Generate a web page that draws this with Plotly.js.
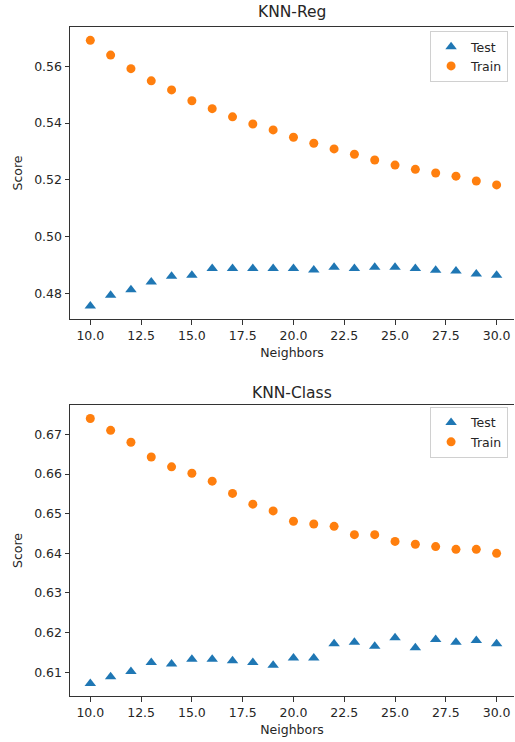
<!DOCTYPE html>
<html>
<head>
<meta charset="utf-8">
<script src="https://cdn.plot.ly/plotly-3.0.1.min.js"></script>
<style>html,body{margin:0;padding:0;overflow:hidden;background:#fff;}</style>
</head>
<body>
<div id="chart" style="width:515px;height:742px;"></div>
<script>
const neighbors = [10,11,12,13,14,15,16,17,18,19,20,21,22,23,24,25,26,27,28,29,30];

const regTest = [0.4755,0.4793,0.4812,0.4840,0.4860,0.4863,0.4887,0.4887,0.4887,0.4887,0.4887,0.4882,0.4892,0.4887,0.4892,0.4892,0.4887,0.4881,0.4878,0.4868,0.4863];
const regTrain = [0.5692,0.5640,0.5592,0.5549,0.5517,0.5479,0.5451,0.5422,0.5397,0.5376,0.5350,0.5329,0.5309,0.5290,0.5270,0.5252,0.5237,0.5224,0.5213,0.5196,0.5182];

const clsTest = [0.6072,0.6089,0.6102,0.6125,0.6121,0.6133,0.6133,0.6129,0.6125,0.6118,0.6136,0.6136,0.6172,0.6176,0.6166,0.6187,0.6162,0.6183,0.6176,0.6180,0.6172];
const clsTrain = [0.6740,0.6710,0.6680,0.6643,0.6618,0.6602,0.6582,0.6551,0.6524,0.6507,0.6481,0.6474,0.6468,0.6447,0.6447,0.6430,0.6423,0.6417,0.6410,0.6410,0.6400];

const titles = ["KNN-Reg", "KNN-Class"];
const seriesNames = ["Test", "Train"];
const xTickVals = [10,12.5,15,17.5,20,22.5,25,27.5,30];

const blue = "#1f77b4", orange = "#ff7f0e";
const font = {family: "DejaVu Sans", color: "#262626"};
const tickFont = {family: "DejaVu Sans", size: 12.5, color: "#262626"};

function mk(x, y, name, sym, color, xa, ya, leg) {
  return {
    x: x, y: y, name: name, type: "scatter", mode: "markers",
    xaxis: xa, yaxis: ya, legend: leg,
    marker: {symbol: sym, color: color, size: sym === "circle" ? 9 : 10, line: {width: 0}},
    hoverinfo: "x+y"
  };
}

const data = [
  mk(neighbors, regTest, seriesNames[0], "triangle-up", blue, "x", "y", "legend"),
  mk(neighbors, regTrain, seriesNames[1], "circle", orange, "x", "y", "legend"),
  mk(neighbors, clsTest, seriesNames[0], "triangle-up", blue, "x2", "y2", "legend2"),
  mk(neighbors, clsTrain, seriesNames[1], "circle", orange, "x2", "y2", "legend2")
];

function xax(anchor) {
  return {
    anchor: anchor, domain: [0, 1], range: [9, 30.856],
    tickmode: "array", tickvals: xTickVals, tickformat: ".1f",
    ticks: "outside", ticklen: 4.5, tickwidth: 1, tickcolor: "#333",
    showline: true, linecolor: "#333", linewidth: 1, mirror: true,
    showgrid: false, zeroline: false, tickfont: tickFont,
    title: {text: "Neighbors", font: Object.assign({size: 12.5}, font), standoff: 6}
  };
}
function yax(anchor, domain, range, dtick) {
  return {
    anchor: anchor, domain: domain, range: range,
    dtick: dtick, tick0: 0, tickformat: ".2f",
    ticks: "outside", ticklen: 4.5, tickwidth: 1, tickcolor: "#333",
    showline: true, linecolor: "#333", linewidth: 1, mirror: false,
    showgrid: false, zeroline: false, tickfont: tickFont,
    title: {text: "Score", font: Object.assign({size: 12.5}, font), standoff: 8}
  };
}

const legendBase = {
  xref: "paper", yref: "paper", xanchor: "left", yanchor: "top",
  bgcolor: "rgba(255,255,255,0.8)", bordercolor: "#d0d0d0", borderwidth: 1,
  font: Object.assign({size: 12.5}, font), itemwidth: 30, tracegroupgap: 0
};

const layout = {
  width: 515, height: 742,
  margin: {l: 70, r: 1, t: 27, b: 46},
  paper_bgcolor: "#fff", plot_bgcolor: "#fff",
  showlegend: true,
  font: font,
  xaxis: xax("y"),
  yaxis: yax("x", [0.5635, 1], [0.4709, 0.5739], 0.02),
  xaxis2: xax("y2"),
  yaxis2: yax("x2", [0, 0.435], [0.60403, 0.6774], 0.01),
  legend: Object.assign({x: 0.811, y: 0.994}, legendBase),
  legend2: Object.assign({x: 0.811, y: 0.432}, legendBase),
  annotations: [
    {text: titles[0], xref: "paper", yref: "paper", x: 0.5, y: 1.0217, xanchor: "center", yanchor: "middle", showarrow: false, font: Object.assign({size: 15.5}, font)},
    {text: titles[1], xref: "paper", yref: "paper", x: 0.5, y: 0.4534, xanchor: "center", yanchor: "middle", showarrow: false, font: Object.assign({size: 15.5}, font)}
  ]
};

Plotly.newPlot("chart", data, layout, {displayModeBar: false, staticPlot: true});
</script>
</body>
</html>
